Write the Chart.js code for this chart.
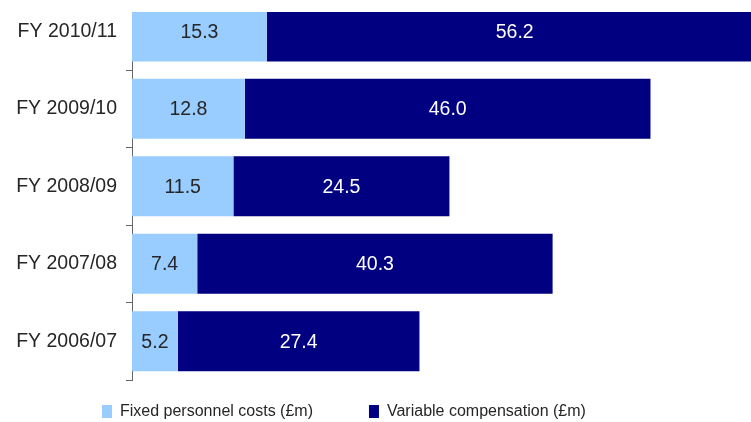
<!DOCTYPE html>
<html><head><meta charset="utf-8">
<script src="https://cdn.jsdelivr.net/npm/chart.js@4"></script>
<style>html,body{margin:0;padding:0;background:#fff}#c{display:block}</style>
</head><body>
<canvas id="c" width="751" height="422"></canvas>
<script>
const categories = ['FY 2010/11', 'FY 2009/10', 'FY 2008/09', 'FY 2007/08', 'FY 2006/07'];
const fixedCosts = [15.3, 12.8, 11.5, 7.4, 5.2];
const variableComp = [56.2, 46.0, 24.5, 40.3, 27.4];
const seriesNames = ['Fixed personnel costs (£m)', 'Variable compensation (£m)'];
const seriesColors = ['#99CCFF', '#000080'];
const labelColors = ['#262626', '#FFFFFF'];

const pos = i => categories.length - 1 - i;
const toPoints = arr => arr.map((v, i) => ({ x: v, y: pos(i) }));

const valueLabels = {
  id: 'valueLabels',
  afterDatasetsDraw(chart) {
    const ctx = chart.ctx;
    ctx.save();
    ctx.font = '19.5px "Liberation Sans", Arial, sans-serif';
    ctx.textAlign = 'center';
    ctx.textBaseline = 'middle';
    chart.data.datasets.forEach((ds, di) => {
      const meta = chart.getDatasetMeta(di);
      ctx.fillStyle = labelColors[di];
      meta.data.forEach((el, i) => {
        const p = el.getProps(['x', 'y', 'base'], true);
        ctx.fillText(ds.data[i].x.toFixed(1), (p.x + p.base) / 2, p.y + 1);
      });
    });
    ctx.restore();
  }
};

const legendPlace = {
  id: 'legendPlace',
  afterLayout(chart) {
    const lg = chart.legend;
    const pad = lg.options.labels.padding;
    lg.left = 102 - pad;
    lg.top = 403.5 - pad;
    lg.bottom = 422;
  }
};

Chart.defaults.font.family = '"Liberation Sans", Arial, sans-serif';

new Chart(document.getElementById('c'), {
  type: 'bar',
  data: {
    datasets: [
      { label: seriesNames[0], data: toPoints(fixedCosts), backgroundColor: seriesColors[0], borderWidth: 0 },
      { label: seriesNames[1], data: toPoints(variableComp), backgroundColor: seriesColors[1], borderWidth: 0 }
    ]
  },
  options: {
    indexAxis: 'y',
    responsive: false,
    animation: false,
    categoryPercentage: 1,
    barPercentage: 0.775,
    layout: { padding: { top: 12, left: 0, right: 0, bottom: 0 } },
    scales: {
      x: { type: 'linear', stacked: true, display: false, min: 0, max: 70.2, offset: false },
      y: {
        type: 'linear', stacked: true, min: -0.5, max: 4.25, z: 1, offset: false,
        afterBuildTicks(axis) { axis.ticks = categories.map((c, i) => ({ value: i })); },
        afterFit(axis) { axis.width = 132; axis.paddingTop = 0; axis.paddingBottom = 0; },
        ticks: {
          callback: v => categories[categories.length - 1 - v],
          color: '#262626', font: { size: 19.5 }, padding: 9, autoSkip: false
        },
        grid: { offset: true, drawOnChartArea: false, drawTicks: true, tickLength: 6, color: '#666666', tickColor: '#666666' },
        border: { display: true, color: '#666666', width: 1 }
      }
    },
    plugins: {
      legend: {
        position: 'bottom', align: 'start', maxHeight: 42,
        labels: {
          boxWidth: 10, boxHeight: 13, padding: 56, color: '#262626',
          font: { size: 16 }
        }
      },
      tooltip: { enabled: false }
    }
  },
  plugins: [valueLabels, legendPlace]
});
</script>
</body></html>
